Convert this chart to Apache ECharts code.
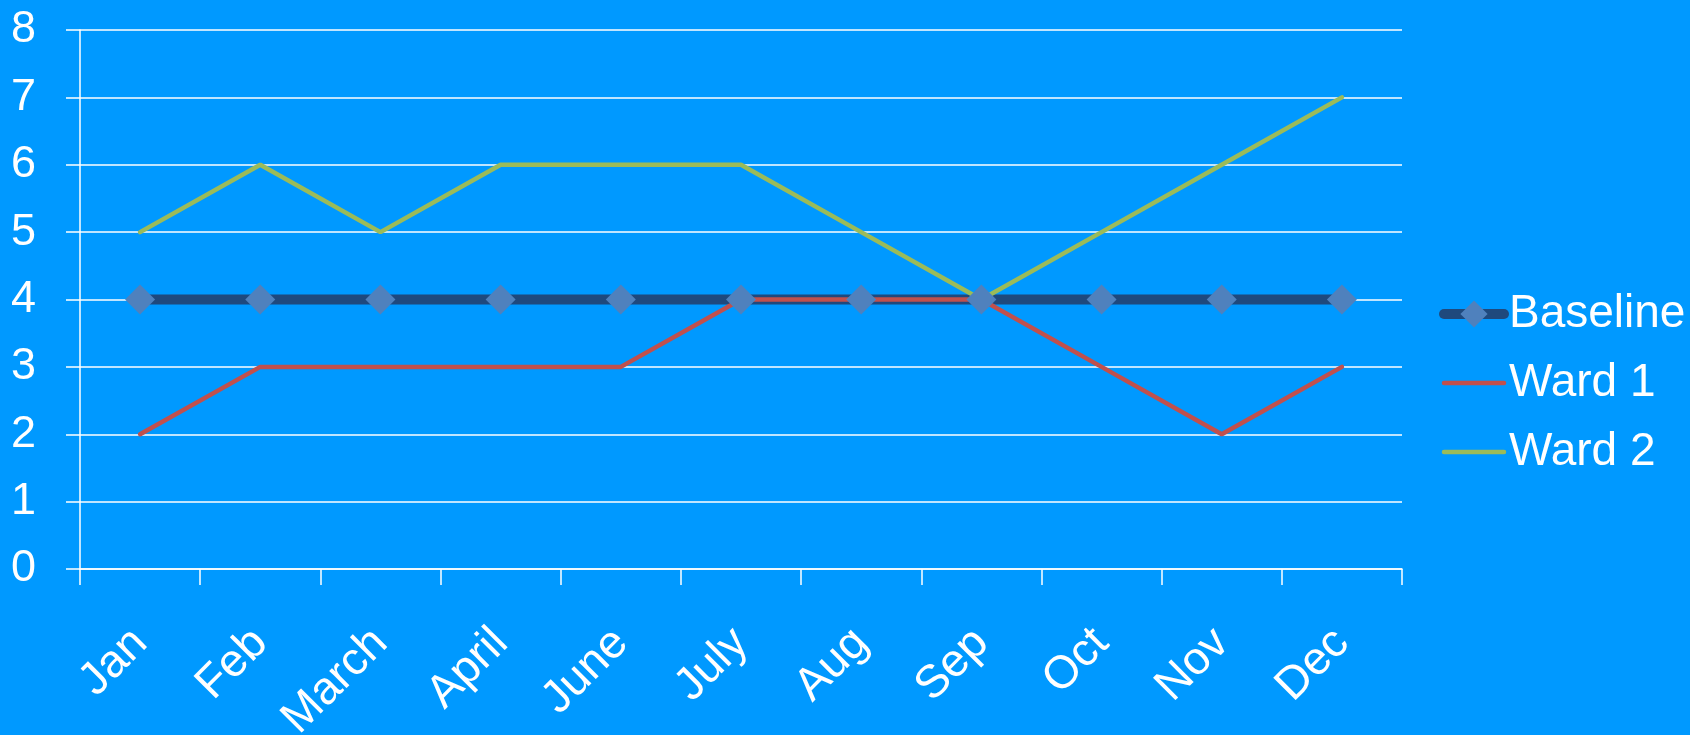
<!DOCTYPE html>
<html>
<head>
<meta charset="utf-8">
<script src="https://cdn.jsdelivr.net/npm/echarts@6/dist/echarts.min.js"></script>
<style>
  html, body { margin: 0; padding: 0; background: #0099ff; }
  #chart { width: 1690px; height: 735px; }
</style>
</head>
<body>
<div id="chart"></div>
<script>
// Monthly counts per ward against a fixed baseline
const months = ['Jan', 'Feb', 'March', 'April', 'June', 'July', 'Aug', 'Sep', 'Oct', 'Nov', 'Dec'];
const baseline = [4, 4, 4, 4, 4, 4, 4, 4, 4, 4, 4];
const ward1 = [2, 3, 3, 3, 3, 4, 4, 4, 3, 2, 3];
const ward2 = [5, 6, 5, 6, 6, 6, 5, 4, 5, 6, 7];
const yTicks = { min: 0, max: 8, step: 1 };

const FONT = '"Liberation Sans", Arial, sans-serif';
const chart = echarts.init(document.getElementById('chart'));

chart.setOption({
  animation: false,
  backgroundColor: '#0099ff',
  textStyle: { fontFamily: FONT },
  grid: {
    left: 80, right: 288, top: 30, bottom: 166,
    containLabel: false,
    outerBoundsMode: 'none'
  },
  legend: {
    orient: 'vertical',
    left: 1434,
    top: 286,
    itemWidth: 60,
    itemHeight: 34,
    itemGap: 23,
    textStyle: { color: '#ffffff', fontSize: 46, fontFamily: FONT, lineHeight: 46 },
    data: [
      { name: 'Baseline', lineStyle: { width: 10, cap: 'round' } },
      { name: 'Ward 1', lineStyle: { width: 4.5, cap: 'round' }, itemStyle: { opacity: 0 } },
      { name: 'Ward 2', lineStyle: { width: 4.5, cap: 'round' }, itemStyle: { opacity: 0 } }
    ]
  },
  xAxis: {
    type: 'category',
    data: months,
    boundaryGap: true,
    axisLine: { lineStyle: { color: '#ffffff', width: 1.5 } },
    axisTick: { show: true, length: 16, lineStyle: { color: '#ffffff', width: 1.5 } },
    axisLabel: { color: '#ffffff', fontSize: 46, fontFamily: FONT, rotate: 45, margin: 67, interval: 0 },
    splitLine: { show: false }
  },
  yAxis: {
    type: 'value',
    min: yTicks.min,
    max: yTicks.max,
    interval: yTicks.step,
    axisLine: { show: true, lineStyle: { color: '#ffffff', width: 1.5 } },
    axisTick: { show: true, length: 14, lineStyle: { color: '#ffffff', width: 1.5 } },
    axisLabel: { color: '#ffffff', fontSize: 45, fontFamily: FONT, margin: 44 },
    splitLine: { show: true, lineStyle: { color: '#ffffff', width: 1.5 } }
  },
  series: [
    {
      name: 'Baseline',
      type: 'line',
      data: baseline,
      symbol: 'diamond',
      symbolSize: 30,
      showAllSymbol: true,
      itemStyle: { color: '#4f81bd' },
      lineStyle: { color: '#1f497d', width: 10, cap: 'round' }
    },
    {
      name: 'Ward 1',
      type: 'line',
      data: ward1,
      symbol: 'none',
      itemStyle: { color: '#c0504d' },
      lineStyle: { color: '#c0504d', width: 4.5, cap: 'round' }
    },
    {
      name: 'Ward 2',
      type: 'line',
      data: ward2,
      symbol: 'none',
      itemStyle: { color: '#9bbb59' },
      lineStyle: { color: '#9bbb59', width: 4.5, cap: 'round' }
    }
  ]
});
</script>
</body>
</html>
